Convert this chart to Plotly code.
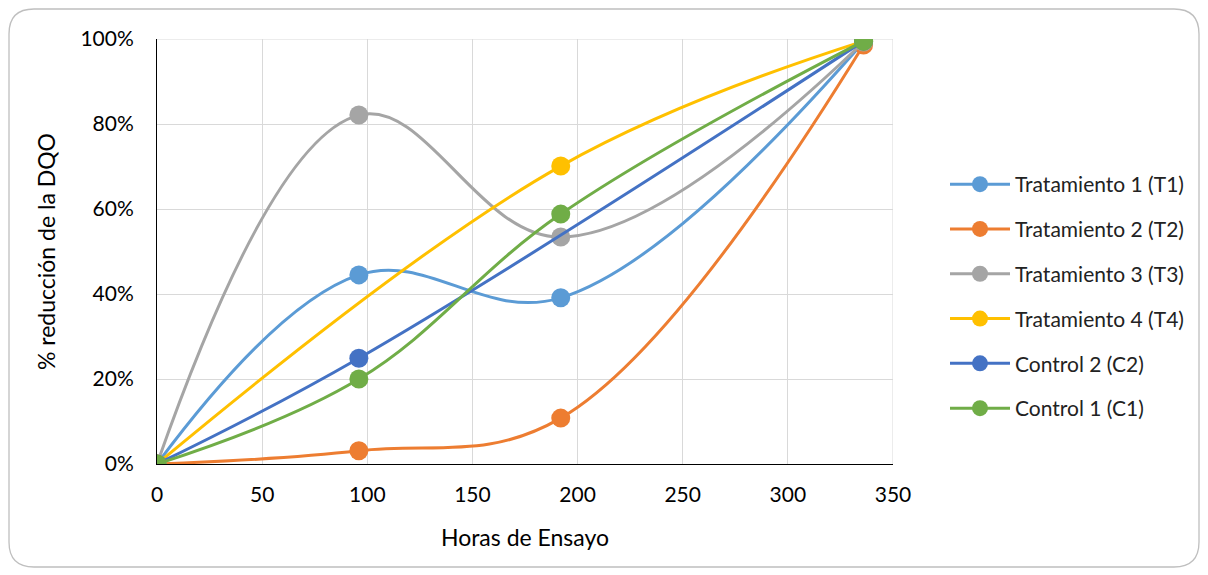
import plotly.graph_objects as go

series_names = ["Tratamiento 1 (T1)", "Tratamiento 2 (T2)", "Tratamiento 3 (T3)",
                "Tratamiento 4 (T4)", "Control 2 (C2)", "Control 1 (C1)"]
t1_x = [0, 96, 192, 336]; t1_y = [0, 44.5, 39.1, 99.3]
t2_x = [0, 96, 192, 336]; t2_y = [0, 3.1, 10.8, 98.6]
t3_x = [0, 96, 192, 336]; t3_y = [0, 82.1, 53.4, 99.3]
t4_x = [0, 192, 336]; t4_y = [0, 70.1, 99.5]
c2_x = [0, 96, 336]; c2_y = [0, 24.9, 99.5]
c1_x = [0, 96, 192, 336]; c1_y = [0, 20.0, 58.8, 99.5]
colors = ["#5B9BD5", "#ED7D31", "#A5A5A5", "#FFC000", "#4472C4", "#70AD47"]

xs = [t1_x, t2_x, t3_x, t4_x, c2_x, c1_x]
ys = [t1_y, t2_y, t3_y, t4_y, c2_y, c1_y]

FONT = "Lato"
fig = go.Figure()
for i, (name, x, y, c) in enumerate(zip(series_names, xs, ys, colors)):
    fig.add_trace(go.Scatter(
        x=x, y=[v / 100 for v in y], name=name, mode="lines+markers",
        legendgroup=f"g{i}",
        line=dict(color=c, width=3, shape="spline", smoothing=1.1),
        marker=dict(color=c, size=19)))

OFF = 8  # page offset of the figure inside the window
W, H = 1208 - OFF, 575 - OFF
L, R, T, B = 157 - OFF, 893 - OFF, 39 - OFF, 464 - OFF
pw, ph = R - L, B - T
def px(x): return (x - OFF - L) / pw
def py(y): return (B - (y - OFF)) / ph
x0, x1, y0, y1 = px(9), px(1199), py(9), py(567)
rx, ry = 25 / pw, 25 / ph
path = (f"M {x0+rx},{y0} L {x1-rx},{y0} Q {x1},{y0} {x1},{y0-ry} "
        f"L {x1},{y1+ry} Q {x1},{y1} {x1-rx},{y1} L {x0+rx},{y1} "
        f"Q {x0},{y1} {x0},{y1+ry} L {x0},{y0-ry} Q {x0},{y0} {x0+rx},{y0} Z")

fig.update_layout(
    width=W, height=H, paper_bgcolor="white", plot_bgcolor="white",
    margin=dict(l=L, r=W - R, t=T, b=H - B),
    font=dict(family=FONT, size=21, color="#000000"),
    shapes=[dict(type="path", xref="paper", yref="paper", path=path,
                 line=dict(color="#BFBFBF", width=1.3), layer="below"),
            dict(type="line", xref="x", yref="y", x0=350, x1=350, y0=0, y1=1,
                 line=dict(color="#D9D9D9", width=1), layer="below"),
            dict(type="line", xref="x", yref="y", x0=0, x1=350, y0=1, y1=1,
                 line=dict(color="#D9D9D9", width=1), layer="below")],
    legend=dict(x=px(945), y=py(164), xanchor="left", yanchor="top",
                font=dict(family=FONT, size=21, color="#222222"),
                tracegroupgap=14.5, itemwidth=60, bgcolor="rgba(0,0,0,0)"),
    xaxis=dict(range=[0, 350], dtick=50, showgrid=True, gridcolor="#D9D9D9",
               gridwidth=1, showline=True, linecolor="#000000", linewidth=1,
               zeroline=False, ticks="", ticklabelstandoff=12,
               title=dict(text="Horas de Ensayo", standoff=24,
                          font=dict(family=FONT, size=23))),
    yaxis=dict(range=[0, 1], dtick=0.2, tickformat=".0%", showgrid=True,
               gridcolor="#D9D9D9", gridwidth=1, showline=True,
               linecolor="#000000", linewidth=1, zeroline=False, ticks="",
               ticklabelstandoff=18,
               title=dict(text="% reducción de la DQO", standoff=18,
                          font=dict(family=FONT, size=23))),
)
fig.write_html("out.html")
